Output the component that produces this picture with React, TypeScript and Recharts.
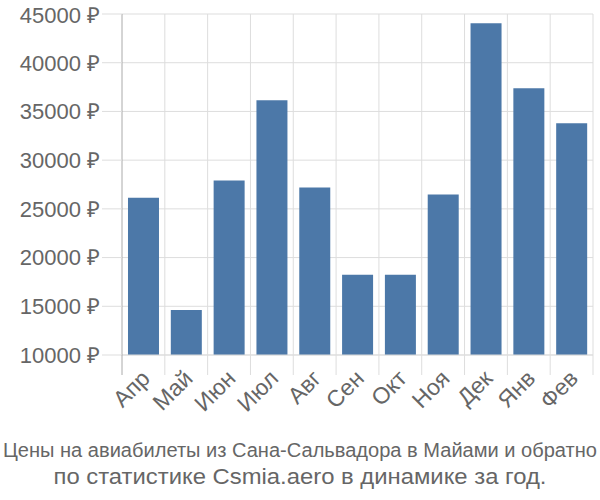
import { BarChart, Bar, XAxis, YAxis, CartesianGrid } from 'recharts';

const months = ['Апр', 'Май', 'Июн', 'Июл', 'Авг', 'Сен', 'Окт', 'Ноя', 'Дек', 'Янв', 'Фев'];
const prices = [26150, 14630, 27900, 36150, 27190, 18240, 18240, 26470, 44050, 37380, 33780];
const yTicks = [10000, 15000, 20000, 25000, 30000, 35000, 40000, 45000];
const titleLines = [
  'Цены на авиабилеты из Сана-Сальвадора в Майами и обратно',
  'по статистике Csmia.aero в динамике за год.',
];

const data = months.map((m, i) => ({ month: m, price: prices[i] }));

const W = 600;
const H = 430;
const Y_AXIS_W = 122;
const RIGHT = 7;
const PLOT_W = W - Y_AXIS_W - RIGHT;
const BAND = PLOT_W / months.length;
const FONT = '"Liberation Sans", Arial, sans-serif';

function MonthTick(props: any) {
  const { x, y, payload, index } = props;
  const left = x - BAND / 2;
  return (
    <g>
      <line x1={left} y1={y} x2={left} y2={y + 20} stroke={index === 0 ? '#aaa' : '#ddd'} strokeWidth={1} />
      {index === months.length - 1 && (
        <line x1={x + BAND / 2} y1={y} x2={x + BAND / 2} y2={y + 20} stroke="#ddd" strokeWidth={1} />
      )}
      <text
        x={0}
        y={0}
        transform={`translate(${x - 4},${y + 13}) rotate(-45)`}
        textAnchor="end"
        dominantBaseline="hanging"
        fill="#666"
        fontSize={23}
        fontFamily={FONT}
      >
        {payload.value}
      </text>
    </g>
  );
}

export default function App() {
  return (
    <div style={{ position: 'absolute', left: 0, top: 0, width: W, height: 500, background: '#fff' }}>
      <BarChart
        width={W}
        height={H}
        data={data}
        margin={{ top: 14, right: RIGHT, bottom: 0, left: 0 }}
        barCategoryGap="14%"
      >
        <CartesianGrid
          stroke="#ddd"
          strokeWidth={1}
          verticalCoordinatesGenerator={({ offset }: any) =>
            months.map((_, i) => offset.left + (i + 1) * (offset.width / months.length))
          }
        />
        <XAxis
          dataKey="month"
          height={75}
          tickLine={false}
          tickSize={0}
          tickMargin={0}
          axisLine={{ stroke: '#ddd' }}
          interval={0}
          tick={<MonthTick />}
        />
        <YAxis
          width={Y_AXIS_W}
          domain={[10000, 45000]}
          ticks={yTicks}
          allowDataOverflow
          tickSize={20}
          tickMargin={2}
          tickLine={{ stroke: '#ddd' }}
          axisLine={{ stroke: '#aaa' }}
          tick={{ fill: '#666', fontSize: 22, fontFamily: FONT }}
          tickFormatter={(v: number) => `${v} ₽`}
        />
        <Bar dataKey="price" fill="#4c78a8" isAnimationActive={false} />
      </BarChart>
      <svg width={W} height={70} style={{ display: 'block' }}>
        <text
          x={300}
          y={27}
          textAnchor="middle"
          fill="#666"
          fontSize={20}
          fontFamily={FONT}
          textLength={594}
          lengthAdjust="spacingAndGlyphs"
        >
          {titleLines[0]}
        </text>
        <text
          x={300}
          y={54}
          textAnchor="middle"
          fill="#666"
          fontSize={22}
          fontFamily={FONT}
          textLength={493}
          lengthAdjust="spacingAndGlyphs"
        >
          {titleLines[1]}
        </text>
      </svg>
    </div>
  );
}
